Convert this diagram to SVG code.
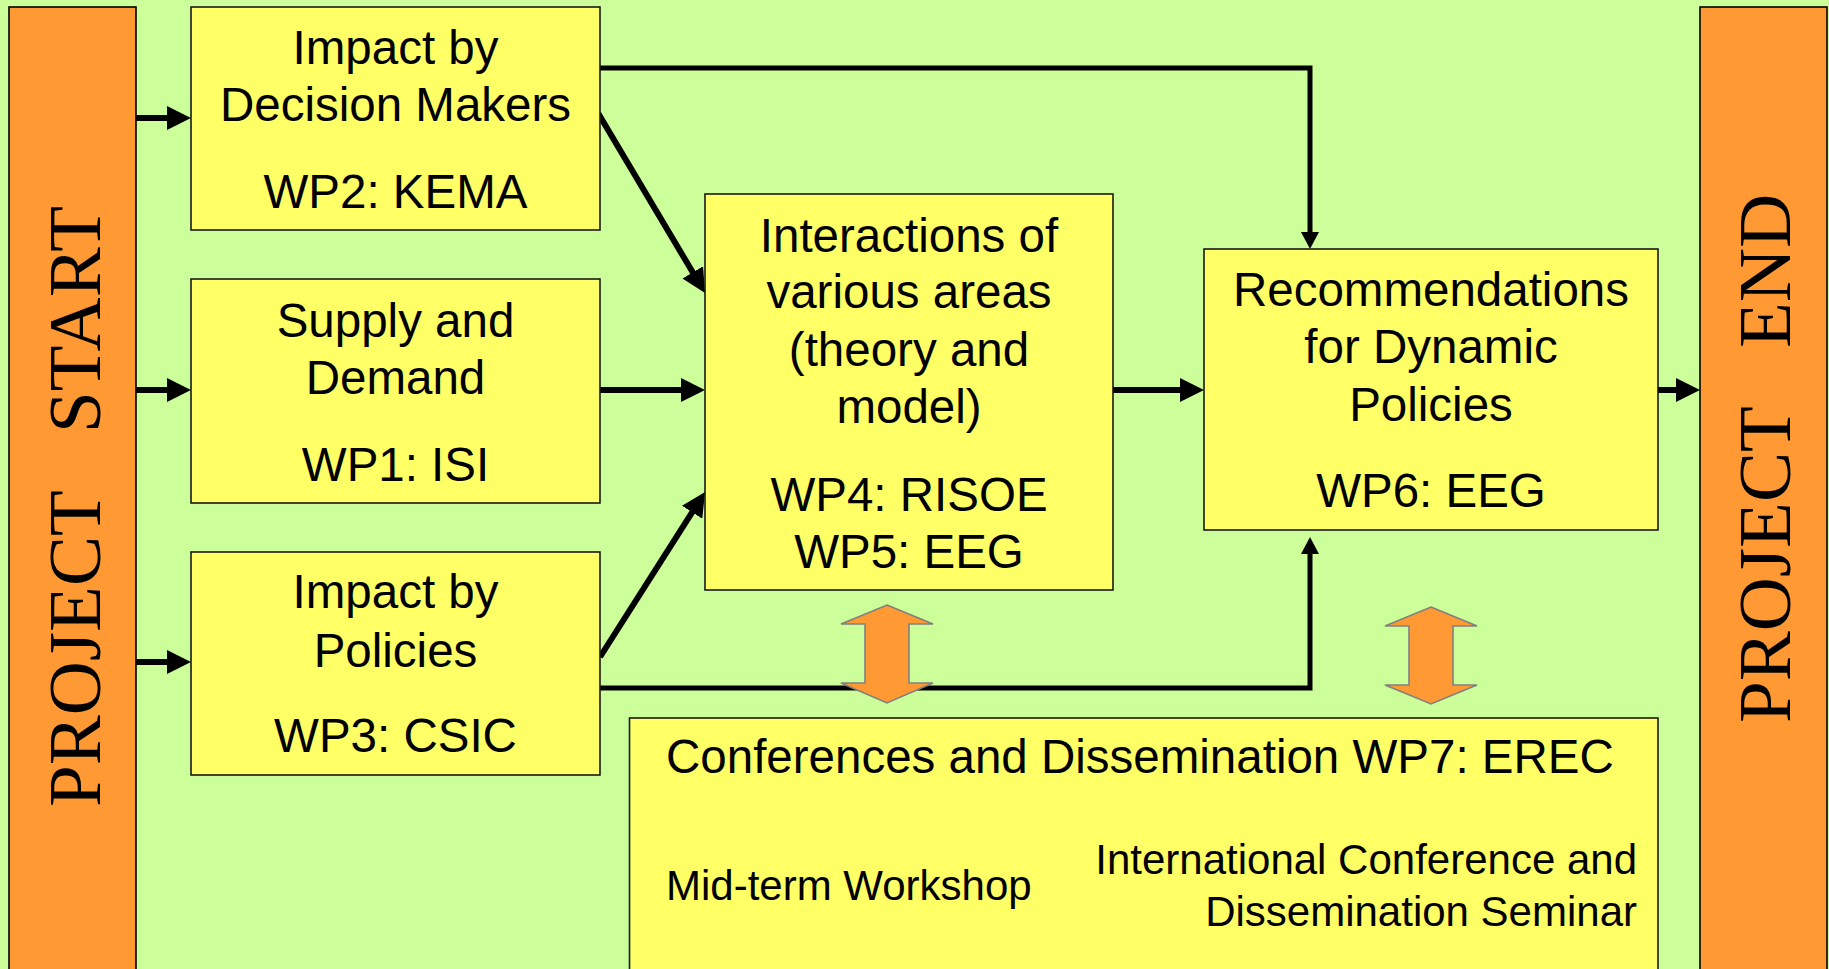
<svg xmlns="http://www.w3.org/2000/svg" width="1829" height="969" viewBox="0 0 1829 969">
<style>
.box{fill:#FFFF66;stroke:#1a1a1a;stroke-width:1.6}
.bar{fill:#FF9933;stroke:#000;stroke-width:1.6}
.t{font-family:"Liberation Sans",Arial,sans-serif;font-size:47.5px;fill:#000;text-anchor:middle}
.s{font-family:"Liberation Sans",Arial,sans-serif;font-size:42px;fill:#000}
.v{font-family:"Liberation Serif","Times New Roman",serif;font-size:75px;fill:#000}
.c{fill:none;stroke:#000;stroke-width:6}
.e{fill:none;stroke:#000;stroke-width:5}
.dbl{fill:#FF9933;stroke:#808080;stroke-width:1.6}
</style>
<defs>
<marker id="big" markerUnits="userSpaceOnUse" markerWidth="24" markerHeight="24" refX="4" refY="12" orient="auto"><path d="M0,0 L24,12 L0,24 z" fill="#000"/></marker>
<marker id="small" markerUnits="userSpaceOnUse" markerWidth="18" markerHeight="18" refX="3" refY="9" orient="auto"><path d="M0,0 L17,9 L0,18 z" fill="#000"/></marker>
</defs>
<rect x="0" y="0" width="1829" height="969" fill="#CCFF99"/>
<g id="start">
<rect class="bar" x="9" y="7" width="127" height="1000"/>
<text class="v" transform="translate(100,807) rotate(-90)">PROJECT</text>
<text class="v" transform="translate(100,433) rotate(-90)">START</text>
</g>
<g id="end">
<rect class="bar" x="1700" y="7" width="127" height="1000"/>
<text class="v" transform="translate(1790,723) rotate(-90)">PROJECT</text>
<text class="v" transform="translate(1790,348) rotate(-90)">END</text>
</g>
<g id="connectors">
<path class="c" d="M136,118 H171" marker-end="url(#big)"/>
<path class="c" d="M136,390 H171" marker-end="url(#big)"/>
<path class="c" d="M136,662 H171" marker-end="url(#big)"/>
<path class="c" d="M600,390 H685" marker-end="url(#big)"/>
<path class="c" d="M1113,390 H1184" marker-end="url(#big)"/>
<path class="c" d="M1658,390 H1680" marker-end="url(#big)"/>
<path class="c" d="M598,113 L694.8,275.8" marker-end="url(#big)"/>
<path class="c" d="M600,657 L694.3,508.9" marker-end="url(#big)"/>
<path class="e" d="M600,68 H1310 V235" marker-end="url(#small)"/>
<path class="e" d="M600,688 H1310 V551" marker-end="url(#small)"/>
</g>
<g id="wp2">
<rect class="box" x="191" y="7" width="409" height="223"/>
<text class="t" x="395.5" y="64">Impact by</text>
<text class="t" x="395.5" y="121">Decision Makers</text>
<text class="t" x="395.5" y="208">WP2: KEMA</text>
</g>
<g id="wp1">
<rect class="box" x="191" y="279" width="409" height="224"/>
<text class="t" x="395.5" y="337">Supply and</text>
<text class="t" x="395.5" y="394">Demand</text>
<text class="t" x="395.5" y="481">WP1: ISI</text>
</g>
<g id="wp3">
<rect class="box" x="191" y="552" width="409" height="223"/>
<text class="t" x="395.5" y="608">Impact by</text>
<text class="t" x="395.5" y="667">Policies</text>
<text class="t" x="395.5" y="752">WP3: CSIC</text>
</g>
<g id="wp45">
<rect class="box" x="705" y="194" width="408" height="396"/>
<text class="t" x="909" y="252">Interactions of</text>
<text class="t" x="909" y="308">various areas</text>
<text class="t" x="909" y="366">(theory and</text>
<text class="t" x="909" y="423">model)</text>
<text class="t" x="909" y="511">WP4: RISOE</text>
<text class="t" x="909" y="568">WP5: EEG</text>
</g>
<g id="wp6">
<rect class="box" x="1204" y="249" width="454" height="281"/>
<text class="t" x="1431" y="306">Recommendations</text>
<text class="t" x="1431" y="363">for Dynamic</text>
<text class="t" x="1431" y="421">Policies</text>
<text class="t" x="1431" y="507">WP6: EEG</text>
</g>
<g id="arrowA">
<polygon class="dbl" points="887,605 933,624 909,624 909,683 933,683 887,703 841,683 865,683 865,624 841,624"/>
</g>
<g id="arrowB">
<polygon class="dbl" points="1431,607 1477,626 1453,626 1453,685 1477,685 1431,704 1385,685 1409,685 1409,626 1385,626"/>
</g>
<g id="wp7">
<rect class="box" x="629.5" y="718" width="1028.5" height="300"/>
<text class="t" x="666" y="773" style="text-anchor:start">Conferences and Dissemination WP7: EREC</text>
<text class="s" x="666" y="900">Mid-term Workshop</text>
<text class="s" x="1637" y="874" style="text-anchor:end">International Conference and</text>
<text class="s" x="1637" y="926" style="text-anchor:end">Dissemination Seminar</text>
</g>
</svg>
